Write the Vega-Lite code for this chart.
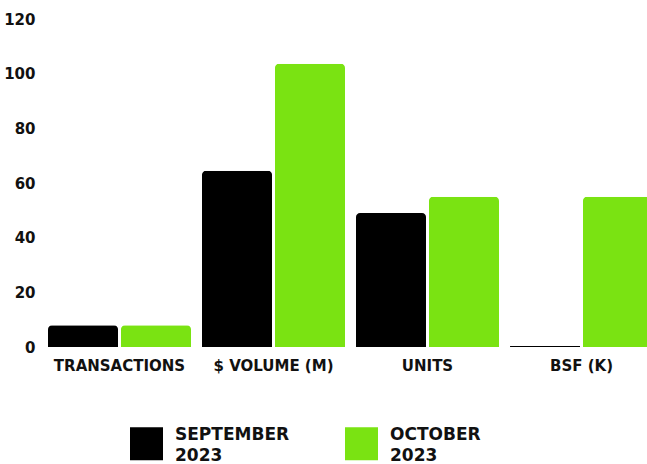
{
  "$schema": "https://vega.github.io/schema/vega-lite/v6.json",
  "width": 599,
  "height": 328,
  "autosize": {"type": "none"},
  "padding": {"left": 48, "top": 19, "right": 0, "bottom": 117},
  "config": {
    "font": "DejaVu Sans",
    "view": {"stroke": null},
    "style": {"guide-label": {"lineHeight": 21}}
  },
  "data": {
    "values": [
      {"metric": "TRANSACTIONS", "month": "SEPTEMBER 2023", "value": 8},
      {"metric": "TRANSACTIONS", "month": "OCTOBER 2023", "value": 8},
      {"metric": "$ VOLUME (M)", "month": "SEPTEMBER 2023", "value": 64.5},
      {"metric": "$ VOLUME (M)", "month": "OCTOBER 2023", "value": 103.6},
      {"metric": "UNITS", "month": "SEPTEMBER 2023", "value": 49},
      {"metric": "UNITS", "month": "OCTOBER 2023", "value": 55},
      {"metric": "BSF (K)", "month": "SEPTEMBER 2023", "value": 0.4},
      {"metric": "BSF (K)", "month": "OCTOBER 2023", "value": 55}
    ]
  },
  "mark": {"type": "bar", "cornerRadiusTopLeft": 4, "cornerRadiusTopRight": 4},
  "encoding": {
    "x": {
      "field": "metric",
      "type": "nominal",
      "sort": ["TRANSACTIONS", "$ VOLUME (M)", "UNITS", "BSF (K)"],
      "scale": {"range": [0, 605], "paddingInner": 0.0714, "paddingOuter": 0},
      "axis": {
        "title": null,
        "labelAngle": 0,
        "domain": false,
        "ticks": false,
        "labelPadding": 11,
        "labelFontSize": 15,
        "labelFontWeight": "bold",
        "labelColor": "#111111",
        "labelLimit": 200
      }
    },
    "xOffset": {
      "field": "month",
      "sort": ["SEPTEMBER 2023", "OCTOBER 2023"],
      "scale": {"paddingInner": 0.04, "paddingOuter": 0}
    },
    "y": {
      "field": "value",
      "type": "quantitative",
      "scale": {"domain": [0, 120]},
      "axis": {
        "title": null,
        "values": [0, 20, 40, 60, 80, 100, 120],
        "grid": false,
        "domain": false,
        "ticks": false,
        "labelPadding": 13,
        "labelFontSize": 15,
        "labelFontWeight": "bold",
        "labelColor": "#111111"
      }
    },
    "color": {
      "field": "month",
      "type": "nominal",
      "scale": {"domain": ["SEPTEMBER 2023", "OCTOBER 2023"], "range": ["#000000", "#7AE312"]},
      "legend": {
        "title": null,
        "orient": "none",
        "legendX": 82,
        "legendY": 408,
        "direction": "horizontal",
        "columns": 2,
        "padding": 0,
        "symbolType": "square",
        "symbolSize": 1089,
        "symbolStrokeWidth": 0,
        "symbolOpacity": 1,
        "labelFontSize": 17,
        "labelFontWeight": "bold",
        "labelColor": "#111111",
        "labelOffset": 12,
        "labelLimit": 300,
        "labelBaseline": "bottom",
        "columnPadding": 55,
        "labelExpr": "split(datum.label, ' ')"
      }
    }
  }
}
